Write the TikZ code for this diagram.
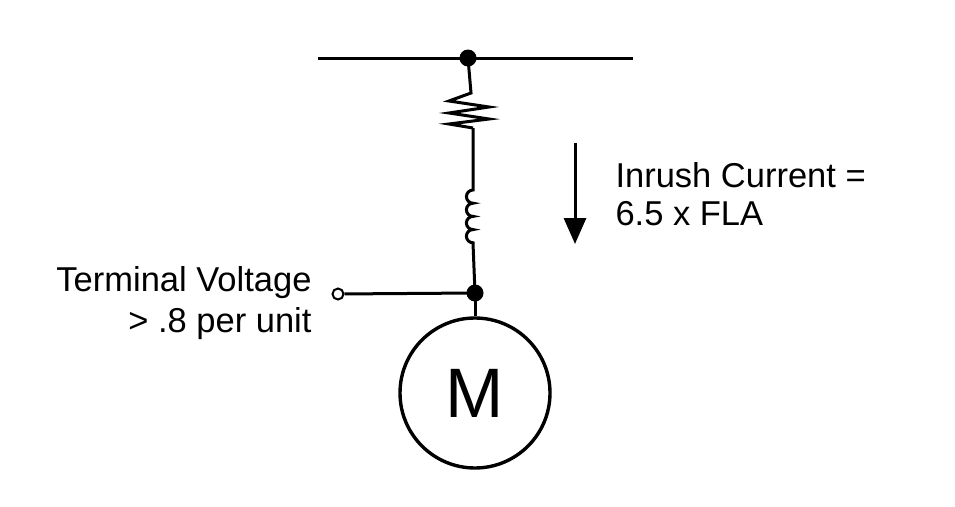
\documentclass[tikz,border=0pt]{standalone}
\usepackage{fontspec}
\setmainfont{Liberation Sans}
\usetikzlibrary{arrows.meta}
\begin{document}
\begin{tikzpicture}[x=1pt,y=-1pt,line width=3pt,
  lbl/.style={font=\fontsize{34.5}{38}\selectfont,inner sep=0pt},
  dotn/.style={circle,fill=black,inner sep=0pt,minimum size=17pt}]
\useasboundingbox (0,0) rectangle (955,506);
\coordinate (bl) at (318,58); \coordinate (br) at (633,58);
\node[dotn] (top) at (468,58) {};
\draw (bl) -- (br);
\coordinate (r1) at (471,93); \coordinate (r2) at (473,128);
\draw (top.center) -- (r1) -- (449,101) -- (489,107) -- (449,113) -- (489,119) -- (449,124) -- (r2);
\coordinate (l1) at (473,190); \coordinate (l2) at (473,243);
\draw (r2) -- (l1)
  arc[start angle=90,end angle=270,radius=6.6pt] arc[start angle=90,end angle=270,radius=6.6pt]
  arc[start angle=90,end angle=270,radius=6.6pt] arc[start angle=90,end angle=270,radius=6.6pt] -- (l2);
\node[dotn] (j) at (475,293) {};
\draw (l2) -- (j.center);
\node[circle,draw,minimum size=150pt,inner sep=0pt,line width=3.4pt,font=\fontsize{70}{76}\selectfont] (m) at (475,393) {M};
\draw (j.center) -- (m);
\node[circle,draw,fill=white,inner sep=0pt,minimum size=11pt,line width=2pt] (t) at (338,294) {};
\draw (t) -- (j.center);
\node[lbl,anchor=east] (tv) at (313,283) {Terminal Voltage};
\node[lbl,anchor=east] (pu) at (313,324) {> .8 per unit};
\coordinate (a1) at (575,143); \coordinate (a2) at (575,244);
\draw[-{Triangle[length=26pt,width=22pt]}] (a1) -- (a2);
\node[lbl,anchor=west] (ic) at (614,175) {Inrush Current =};
\node[lbl,anchor=west] (fla) at (614,214) {6.5 x FLA};
\end{tikzpicture}
\end{document}
